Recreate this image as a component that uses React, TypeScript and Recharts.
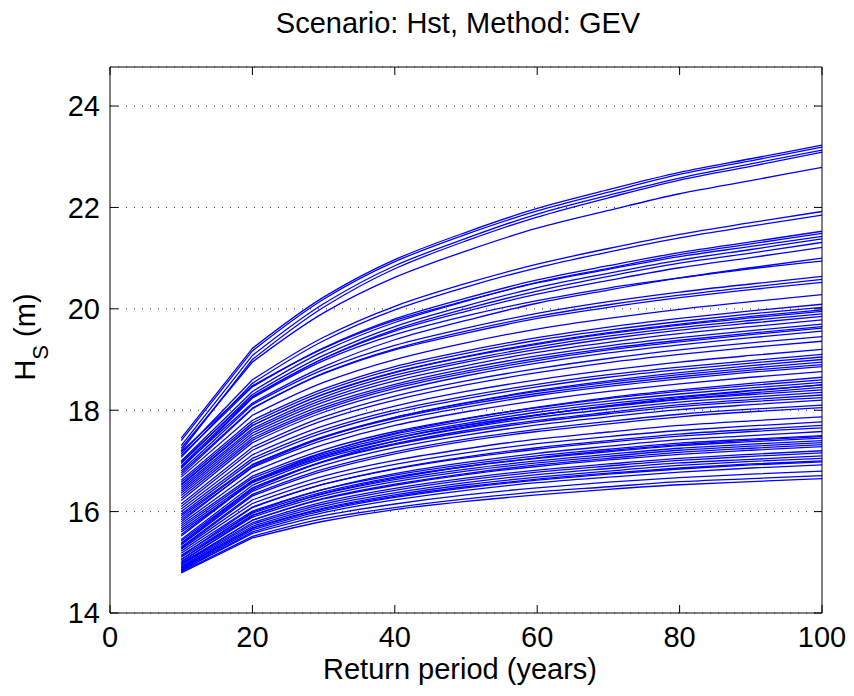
import React from 'react';
import { LineChart, Line, XAxis, YAxis, CartesianGrid } from 'recharts';

// return periods (years) at which each curve is evaluated
const returnPeriods = [10, 20, 30, 40, 50, 60, 70, 80, 90, 100];
const xTicks = [0, 20, 40, 60, 80, 100];
const yTicks = [14, 16, 18, 20, 22, 24];

// Hs (m) per curve — upper group
const upperCurves = [
  [17.45, 19.22, 20.23, 20.97, 21.51, 21.98, 22.35, 22.69, 22.96, 23.23],
  [17.40, 19.17, 20.19, 20.93, 21.47, 21.93, 22.30, 22.65, 22.92, 23.19],
  [17.30, 19.08, 20.10, 20.85, 21.39, 21.87, 22.24, 22.58, 22.86, 23.13],
  [17.20, 19.00, 20.03, 20.79, 21.34, 21.81, 22.19, 22.54, 22.81, 23.09],
  [17.25, 18.95, 19.92, 20.62, 21.14, 21.59, 21.94, 22.27, 22.53, 22.79],
  [17.14, 18.60, 19.44, 20.05, 20.50, 20.88, 21.19, 21.47, 21.70, 21.92],
  [17.07, 18.53, 19.37, 19.98, 20.43, 20.81, 21.12, 21.40, 21.63, 21.85],
  [17.10, 18.46, 19.23, 19.80, 20.21, 20.57, 20.85, 21.11, 21.32, 21.53],
  [17.00, 18.37, 19.16, 19.73, 20.15, 20.52, 20.80, 21.07, 21.28, 21.49],
  [17.18, 18.48, 19.22, 19.77, 20.16, 20.51, 20.78, 21.03, 21.23, 21.43],
  [16.95, 18.31, 19.08, 19.65, 20.06, 20.42, 20.70, 20.96, 21.17, 21.38],
  [16.90, 18.25, 19.02, 19.59, 20.00, 20.35, 20.64, 20.90, 21.10, 21.31],
  [16.98, 18.27, 19.02, 19.56, 19.95, 20.29, 20.56, 20.81, 21.01, 21.21],
  [16.88, 18.14, 18.86, 19.39, 19.77, 20.11, 20.37, 20.61, 20.81, 21.00],
];

// middle group
const middleCurves = [
  [16.85, 18.24, 18.98, 19.49, 19.86, 20.16, 20.41, 20.61, 20.79, 20.94],
  [16.80, 18.11, 18.80, 19.28, 19.62, 19.91, 20.14, 20.33, 20.49, 20.64],
  [16.72, 18.03, 18.73, 19.21, 19.56, 19.85, 20.08, 20.27, 20.43, 20.58],
  [16.76, 18.04, 18.72, 19.19, 19.52, 19.81, 20.03, 20.22, 20.38, 20.52],
  [16.68, 17.90, 18.55, 19.00, 19.33, 19.60, 19.81, 19.99, 20.14, 20.28],
  [16.62, 17.80, 18.42, 18.86, 19.17, 19.43, 19.64, 19.81, 19.96, 20.09],
  [16.58, 17.75, 18.37, 18.81, 19.12, 19.38, 19.58, 19.75, 19.90, 20.03],
  [16.54, 17.70, 18.31, 18.74, 19.05, 19.30, 19.51, 19.68, 19.82, 19.95],
  [16.52, 17.70, 18.32, 18.75, 19.06, 19.32, 19.53, 19.70, 19.85, 19.98],
  [16.48, 17.64, 18.26, 18.69, 18.99, 19.25, 19.46, 19.63, 19.77, 19.90],
  [16.44, 17.60, 18.21, 18.64, 18.95, 19.20, 19.41, 19.58, 19.72, 19.85],
  [16.40, 17.55, 18.16, 18.58, 18.88, 19.14, 19.34, 19.51, 19.65, 19.78],
  [16.36, 17.50, 18.10, 18.51, 18.82, 19.07, 19.27, 19.43, 19.57, 19.70],
  [16.32, 17.45, 18.05, 18.47, 18.77, 19.02, 19.22, 19.38, 19.52, 19.65],
  [16.27, 17.41, 18.01, 18.43, 18.73, 18.98, 19.19, 19.35, 19.49, 19.62],
  [16.22, 17.36, 17.96, 18.37, 18.68, 18.93, 19.13, 19.29, 19.43, 19.56],
  [16.15, 17.27, 17.87, 18.28, 18.58, 18.82, 19.02, 19.19, 19.33, 19.45],
  [16.10, 17.21, 17.80, 18.20, 18.50, 18.74, 18.94, 19.10, 19.24, 19.36],
  [16.05, 17.12, 17.69, 18.08, 18.37, 18.60, 18.79, 18.95, 19.08, 19.20],
  [16.00, 17.05, 17.61, 18.00, 18.28, 18.51, 18.70, 18.85, 18.98, 19.10],
  [15.95, 17.00, 17.56, 17.95, 18.23, 18.46, 18.65, 18.80, 18.93, 19.05],
  [15.80, 16.89, 17.46, 17.86, 18.15, 18.39, 18.58, 18.74, 18.88, 19.00],
  [15.88, 16.92, 17.48, 17.86, 18.14, 18.37, 18.55, 18.70, 18.83, 18.95],
  [15.92, 16.93, 17.47, 17.84, 18.11, 18.33, 18.51, 18.66, 18.79, 18.90],
  [15.84, 16.87, 17.41, 17.79, 18.06, 18.29, 18.47, 18.62, 18.75, 18.86],
  [15.76, 16.78, 17.32, 17.70, 17.97, 18.19, 18.37, 18.52, 18.65, 18.76],
  [15.55, 16.60, 17.16, 17.55, 17.83, 18.06, 18.25, 18.40, 18.53, 18.65],
  [15.72, 16.70, 17.22, 17.58, 17.84, 18.05, 18.23, 18.37, 18.49, 18.60],
  [15.68, 16.66, 17.17, 17.53, 17.79, 18.01, 18.18, 18.32, 18.44, 18.55],
  [15.64, 16.61, 17.13, 17.49, 17.74, 17.96, 18.13, 18.27, 18.39, 18.50],
  [15.36, 16.43, 16.99, 17.39, 17.67, 17.90, 18.09, 18.25, 18.38, 18.50],
  [15.60, 16.57, 17.08, 17.44, 17.70, 17.91, 18.08, 18.22, 18.34, 18.45],
];

// lower group
const lowerCurves = [
  [15.52, 16.59, 17.10, 17.45, 17.71, 17.91, 18.07, 18.21, 18.31, 18.40],
  [15.45, 16.52, 17.05, 17.39, 17.65, 17.86, 18.02, 18.16, 18.26, 18.35],
  [15.38, 16.46, 16.99, 17.34, 17.60, 17.80, 17.96, 18.11, 18.21, 18.30],
  [15.42, 16.47, 16.98, 17.32, 17.57, 17.77, 17.93, 18.07, 18.17, 18.25],
  [15.34, 16.40, 16.91, 17.26, 17.51, 17.71, 17.87, 18.01, 18.11, 18.20],
  [15.30, 16.34, 16.84, 17.18, 17.43, 17.62, 17.78, 17.92, 18.02, 18.10],
  [15.28, 16.31, 16.80, 17.14, 17.39, 17.58, 17.73, 17.87, 17.97, 18.05],
  [15.26, 16.23, 16.70, 17.01, 17.24, 17.43, 17.57, 17.70, 17.79, 17.87],
  [15.22, 16.16, 16.62, 16.93, 17.16, 17.34, 17.48, 17.60, 17.69, 17.77],
  [15.12, 16.08, 16.54, 16.85, 17.08, 17.26, 17.40, 17.53, 17.62, 17.70],
  [15.18, 16.09, 16.54, 16.84, 17.06, 17.23, 17.37, 17.49, 17.58, 17.65],
  [15.05, 15.99, 16.44, 16.75, 16.97, 17.15, 17.29, 17.42, 17.50, 17.58],
  [15.14, 16.01, 16.44, 16.72, 16.93, 17.10, 17.23, 17.35, 17.43, 17.50],
  [15.00, 15.92, 16.36, 16.66, 16.89, 17.06, 17.20, 17.32, 17.41, 17.48],
  [15.10, 15.97, 16.39, 16.68, 16.89, 17.05, 17.18, 17.30, 17.38, 17.45],
  [15.06, 15.93, 16.35, 16.63, 16.84, 17.00, 17.13, 17.25, 17.33, 17.40],
  [15.02, 15.89, 16.31, 16.59, 16.80, 16.96, 17.09, 17.21, 17.29, 17.36],
  [14.96, 15.83, 16.26, 16.54, 16.75, 16.92, 17.05, 17.17, 17.25, 17.32],
  [14.98, 15.83, 16.25, 16.52, 16.73, 16.89, 17.02, 17.13, 17.21, 17.28],
  [14.95, 15.78, 16.19, 16.46, 16.66, 16.82, 16.94, 17.05, 17.13, 17.20],
  [14.92, 15.75, 16.15, 16.42, 16.62, 16.78, 16.90, 17.01, 17.09, 17.16],
  [14.90, 15.71, 16.11, 16.37, 16.57, 16.73, 16.85, 16.96, 17.03, 17.10],
  [14.87, 15.68, 16.07, 16.33, 16.53, 16.68, 16.80, 16.91, 16.99, 17.05],
  [14.89, 15.67, 16.05, 16.30, 16.49, 16.64, 16.76, 16.86, 16.94, 17.00],
  [14.85, 15.64, 16.02, 16.28, 16.47, 16.62, 16.74, 16.84, 16.92, 16.98],
  [14.83, 15.60, 15.98, 16.23, 16.42, 16.57, 16.68, 16.78, 16.86, 16.92],
  [14.84, 15.57, 15.92, 16.15, 16.33, 16.47, 16.58, 16.67, 16.74, 16.80],
  [14.81, 15.51, 15.86, 16.08, 16.25, 16.39, 16.49, 16.59, 16.65, 16.71],
  [14.79, 15.48, 15.81, 16.04, 16.20, 16.33, 16.44, 16.53, 16.59, 16.65],
];

const allCurves = [...upperCurves, ...middleCurves, ...lowerCurves];

const rows = returnPeriods.map((T, i) => {
  const row: Record<string, number> = { T };
  allCurves.forEach((c, k) => {
    row['c' + k] = c[i];
  });
  return row;
});

// straight first segment (10 -> 20), then a smooth monotone curve through the rest
const kinkedCurve = (context: any) => {
  let pts: number[][] = [];
  return {
    areaStart() {},
    areaEnd() {},
    lineStart() {
      pts = [];
    },
    point(x: number, y: number) {
      pts.push([+x, +y]);
    },
    lineEnd() {
      if (!pts.length) return;
      context.moveTo(pts[0][0], pts[0][1]);
      if (pts.length < 3) {
        pts.slice(1).forEach((p) => context.lineTo(p[0], p[1]));
        return;
      }
      context.lineTo(pts[1][0], pts[1][1]);
      const q = pts.slice(1);
      const n = q.length;
      const d: number[] = [];
      for (let i = 0; i < n - 1; i++) d.push((q[i + 1][1] - q[i][1]) / (q[i + 1][0] - q[i][0]));
      const m: number[] = new Array(n).fill(0);
      for (let i = 1; i < n - 1; i++) {
        m[i] = d[i - 1] * d[i] <= 0 ? 0 : (2 * d[i - 1] * d[i]) / (d[i - 1] + d[i]);
      }
      m[0] = (3 * d[0] - m[1]) / 2;
      m[n - 1] = (3 * d[n - 2] - m[n - 2]) / 2;
      for (let i = 0; i < n - 1; i++) {
        const h = q[i + 1][0] - q[i][0];
        context.bezierCurveTo(
          q[i][0] + h / 3,
          q[i][1] + (m[i] * h) / 3,
          q[i + 1][0] - h / 3,
          q[i + 1][1] - (m[i + 1] * h) / 3,
          q[i + 1][0],
          q[i + 1][1]
        );
      }
    },
  };
};

const FONT = '"Liberation Sans", Arial, Helvetica, sans-serif';
const FS = 29;
const TICK = 8;

// matlab-style ticks: pointing inward, labels outside
const BottomTick = (p: any) => (
  <g>
    <line x1={p.x} x2={p.x} y1={p.y} y2={p.y - TICK} stroke="#000" />
    <text x={p.x} y={p.y + 34} textAnchor="middle" fontSize={FS} fontFamily={FONT} fill="#000">
      {p.payload.value}
    </text>
  </g>
);

const LeftTick = (p: any) => (
  <g>
    <line x1={p.x} x2={p.x + TICK} y1={p.y} y2={p.y} stroke="#000" />
    <text x={p.x - 10} y={p.y} dy="0.36em" textAnchor="end" fontSize={FS} fontFamily={FONT} fill="#000">
      {p.payload.value}
    </text>
  </g>
);

const TopTick = (p: any) => <line x1={p.x} x2={p.x} y1={p.y} y2={p.y + TICK} stroke="#000" />;
const RightTick = (p: any) => <line x1={p.x} x2={p.x - TICK} y1={p.y} y2={p.y} stroke="#000" />;

export default function App() {
  return (
    <div style={{ position: 'relative', width: 854, height: 696, background: '#fff' }}>
      <style>{'body{margin:0}'}</style>
      <LineChart
        width={854}
        height={696}
        data={rows}
        margin={{ top: 66, right: 31, bottom: 43, left: 50 }}
      >
        <CartesianGrid vertical={false} stroke="#333" strokeDasharray="1 7" />
        <XAxis
          dataKey="T"
          type="number"
          domain={[0, 100]}
          ticks={xTicks}
          interval={0}
          height={40}
          tickSize={0}
          tickMargin={0}
          tickLine={false}
          axisLine={{ stroke: '#000' }}
          tick={<BottomTick />}
        />
        <XAxis
          xAxisId="top"
          orientation="top"
          dataKey="T"
          type="number"
          domain={[0, 100]}
          ticks={xTicks}
          interval={0}
          height={1}
          tickSize={0}
          tickMargin={0}
          tickLine={false}
          axisLine={{ stroke: '#000' }}
          tick={<TopTick />}
        />
        <YAxis
          type="number"
          domain={[14, 24.77]}
          ticks={yTicks}
          interval={0}
          width={60}
          tickSize={0}
          tickMargin={0}
          tickLine={false}
          allowDataOverflow
          axisLine={{ stroke: '#000' }}
          tick={<LeftTick />}
        />
        <YAxis
          yAxisId="right"
          orientation="right"
          type="number"
          domain={[14, 24.77]}
          ticks={yTicks}
          interval={0}
          width={1}
          tickSize={0}
          tickMargin={0}
          tickLine={false}
          allowDataOverflow
          axisLine={{ stroke: '#000' }}
          tick={<RightTick />}
        />
        {allCurves.map((_, k) => (
          <Line
            key={k}
            type={kinkedCurve as any}
            dataKey={'c' + k}
            stroke="#0000ff"
            strokeWidth={1.3}
            dot={false}
            activeDot={false}
            isAnimationActive={false}
          />
        ))}
      </LineChart>
      <svg
        width={854}
        height={696}
        style={{ position: 'absolute', left: 0, top: 0, pointerEvents: 'none' }}
      >
        <text x={458} y={33} textAnchor="middle" fontSize={FS} fontFamily={FONT} fill="#000">
          Scenario: Hst, Method: GEV
        </text>
        <text x={460} y={679} textAnchor="middle" fontSize={FS} fontFamily={FONT} fill="#000">
          Return period (years)
        </text>
        <text
          transform="translate(35,337) rotate(-90)"
          textAnchor="middle"
          fontSize={FS}
          fontFamily={FONT}
          fill="#000"
        >
          <tspan>H</tspan>
          <tspan dy={13} fontSize={22}>S</tspan>
          <tspan dy={-13}> (m)</tspan>
        </text>
      </svg>
    </div>
  );
}
